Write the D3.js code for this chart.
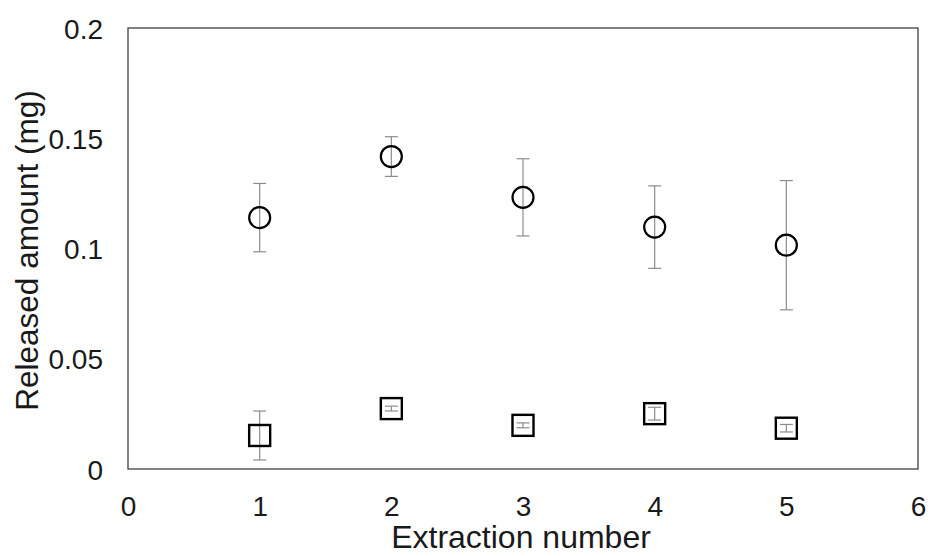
<!DOCTYPE html>
<html lang="en">
<head>
<meta charset="UTF-8">
<title>Released amount</title>
<style>
  body { margin: 0; background: #fff; }
  text { font-family: "Liberation Sans", Arial, sans-serif; fill: #1a1a1a; }
</style>
</head>
<body>
<svg id="chart" width="928" height="556"></svg>

<script src="https://cdn.jsdelivr.net/npm/d3@7"></script>
<script>

// data
var extraction = [1, 2, 3, 4, 5];
var circleMean = [0.1140, 0.1417, 0.1232, 0.1097, 0.1015];
var circleErr  = [0.0155, 0.0090, 0.0175, 0.0187, 0.0293];
var squareMean = [0.0152, 0.0274, 0.0198, 0.0251, 0.0185];
var squareErr  = [0.0111, 0.0011, 0.0011, 0.0029, 0.0017];
var xTicks = [0, 1, 2, 3, 4, 5, 6];
var yTicks = [0, 0.05, 0.1, 0.15, 0.2];

var svg = d3.select("#chart"),
  plotL = 128, plotR = 918, plotT = 28, plotB = 469;

var x = d3.scaleLinear().domain([0, 6]).range([plotL, plotR]),
  y = d3.scaleLinear().domain([0, 0.2]).range([plotB, plotT]);

// plot frame
svg.append("rect")
  .attr("x", plotL).attr("y", plotT)
  .attr("width", plotR - plotL).attr("height", plotB - plotT)
  .attr("fill", "none")
  .attr("stroke", "#404040")
  .attr("stroke-width", 1.3);

// axes (labels only, frame draws the lines)
var xAxis = svg.append("g")
  .attr("transform", "translate(0," + plotB + ")")
  .call(d3.axisBottom(x).tickValues(xTicks).tickSize(0).tickPadding(47).tickFormat(d3.format("d")));
var yAxis = svg.append("g")
  .attr("transform", "translate(" + (plotL - 25) + ",0)")
  .call(d3.axisLeft(y).tickValues(yTicks).tickSize(0).tickPadding(0).tickFormat(function (d) { return String(+d.toFixed(2)); }));

[xAxis, yAxis].forEach(function (g) {
  g.select(".domain").remove();
  g.selectAll("text")
    .attr("font-size", 28)
    .attr("font-family", "'Liberation Sans', Arial, sans-serif")
    .attr("fill", "#1a1a1a");
});
xAxis.selectAll("text").attr("dy", 0);
yAxis.selectAll("text").attr("dy", "0.36em");

// axis titles
svg.append("text")
  .attr("x", (plotL + plotR) / 2 - 2)
  .attr("y", 548)
  .attr("text-anchor", "middle")
  .attr("font-size", 32)
  .text("Extraction number");

svg.append("text")
  .attr("transform", "translate(38," + ((plotT + plotB) / 2 + 2) + ") rotate(-90)")
  .attr("text-anchor", "middle")
  .attr("font-size", 31.5)
  .text("Released amount (mg)");

function drawErrors(means, errs) {
  var g = svg.append("g")
    .attr("stroke", "#8c8c8c")
    .attr("stroke-width", 1.2);
  extraction.forEach(function (e, i) {
    var cx = x(e), y0 = y(means[i] - errs[i]), y1 = y(means[i] + errs[i]);
    g.append("line").attr("x1", cx).attr("x2", cx).attr("y1", y0).attr("y2", y1);
    g.append("line").attr("x1", cx - 6.5).attr("x2", cx + 6.5).attr("y1", y0).attr("y2", y0);
    g.append("line").attr("x1", cx - 6.5).attr("x2", cx + 6.5).attr("y1", y1).attr("y2", y1);
  });
}

drawErrors(circleMean, circleErr);
drawErrors(squareMean, squareErr);

// circle series
svg.append("g").selectAll("circle")
  .data(circleMean)
  .join("circle")
  .attr("cx", function (d, i) { return x(extraction[i]); })
  .attr("cy", function (d) { return y(d); })
  .attr("r", 10.5)
  .attr("fill", "none")
  .attr("stroke", "#000")
  .attr("stroke-width", 2.2);

// square series
var s = 21;
svg.append("g").selectAll("rect")
  .data(squareMean)
  .join("rect")
  .attr("x", function (d, i) { return x(extraction[i]) - s / 2; })
  .attr("y", function (d) { return y(d) - s / 2; })
  .attr("width", s).attr("height", s)
  .attr("fill", "none")
  .attr("stroke", "#000")
  .attr("stroke-width", 2.4);

</script>
</body>
</html>
